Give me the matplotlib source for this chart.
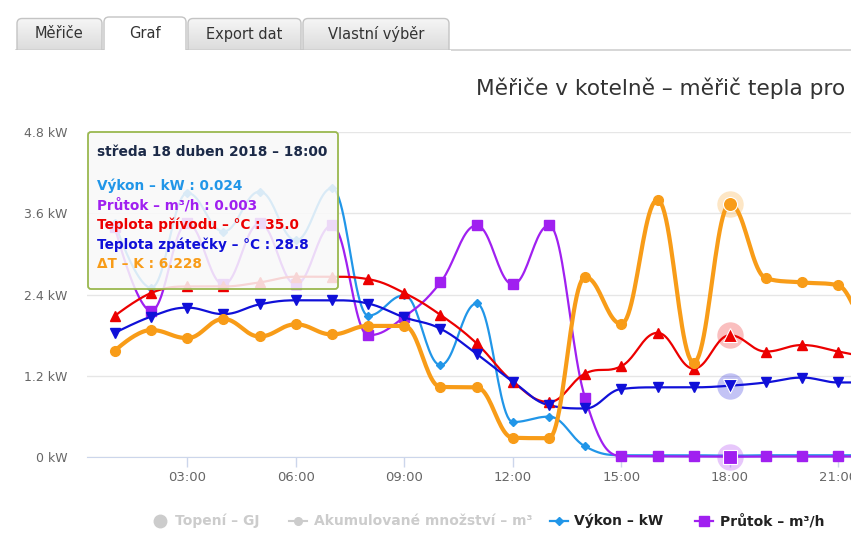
import numpy as np
import matplotlib.pyplot as plt
from matplotlib.patches import FancyBboxPatch, Rectangle

# hodinova data, 18. 4. 2018
hours = list(range(1, 23))
vykon = [3.45, 2.5, 3.9, 3.33, 3.92, 3.2, 3.97, 2.09, 2.39, 1.36, 2.27, 0.52,
         0.60, 0.16, 0.03, 0.03, 0.03, 0.024, 0.03, 0.03, 0.03, 0.03]          # kW
prutok = [1.13, 0.72, 1.15, 0.85, 1.15, 0.85, 1.14, 0.60, 0.69, 0.86, 1.14, 0.85,
          1.14, 0.29, 0.006, 0.005, 0.004, 0.003, 0.004, 0.004, 0.004, 0.004]   # m3/h
t_privod = [37.4, 40.2, 41.0, 41.0, 41.5, 42.2, 42.2, 41.9, 40.2, 37.5, 34.0, 29.3,
            26.8, 30.3, 31.2, 35.3, 30.9, 35.0, 33.0, 33.8, 33.0, 32.1]         # C
t_zpatecka = [35.3, 37.3, 38.4, 37.6, 38.8, 39.3, 39.3, 38.9, 37.2, 35.8, 32.7, 29.3,
              26.4, 26.0, 28.4, 28.6, 28.6, 28.8, 29.2, 29.8, 29.2, 29.2]       # C
delta_t = [2.62, 3.13, 2.93, 3.40, 2.97, 3.27, 3.02, 3.23, 3.23, 1.73, 1.72, 0.48,
           0.47, 4.43, 3.28, 6.33, 2.33, 6.228, 4.40, 4.30, 4.23, 2.2]          # K
xticks = [3, 6, 9, 12, 15, 18, 21]
yticks = [0, 1.2, 2.4, 3.6, 4.8]
hover = 18

C_VYKON = '#2196e8'
C_PRUTOK = '#a020f0'
C_PRIVOD = '#ec0000'
C_ZPAT = '#1010d8'
C_DT = '#f89c18'


def spline(xs, ys, n=24):
    # highcharts-like spline (smoothing 1.5)
    xs = np.asarray(xs, float)
    ys = np.asarray(ys, float)
    k = len(xs)
    s = 1.5
    d = s + 1
    lc = np.column_stack([xs, ys])
    rc = lc.copy()
    for i in range(1, k - 1):
        px, py = xs[i], ys[i]
        lx, ly = xs[i - 1], ys[i - 1]
        nx, ny = xs[i + 1], ys[i + 1]
        lcx = (s * px + lx) / d
        lcy = (s * py + ly) / d
        rcx = (s * px + nx) / d
        rcy = (s * py + ny) / d
        corr = (rcy - lcy) * (rcx - px) / (rcx - lcx) + py - rcy
        lcy += corr
        rcy += corr
        if lcy > ly and lcy > py:
            lcy = max(ly, py)
            rcy = 2 * py - lcy
        elif lcy < ly and lcy < py:
            lcy = min(ly, py)
            rcy = 2 * py - lcy
        if rcy > ny and rcy > py:
            rcy = max(ny, py)
            lcy = 2 * py - rcy
        elif rcy < ny and rcy < py:
            rcy = min(ny, py)
            lcy = 2 * py - rcy
        lc[i] = lcx, lcy
        rc[i] = rcx, rcy
    t = np.linspace(0, 1, n)[:, None]
    out = []
    for i in range(k - 1):
        p0 = np.array([xs[i], ys[i]])
        p3 = np.array([xs[i + 1], ys[i + 1]])
        seg = (1 - t) ** 3 * p0 + 3 * (1 - t) ** 2 * t * rc[i] + 3 * (1 - t) * t ** 2 * lc[i + 1] + t ** 3 * p3
        out.append(seg if i == 0 else seg[1:])
    pts = np.vstack(out)
    return pts[:, 0], pts[:, 1]


W, H = 851, 542
fig = plt.figure(figsize=(W / 100, H / 100), dpi=100)
fig.patch.set_facecolor('white')

# pixel layout: hour h -> 78.8 + 36.17*h
x0px, x1px = 87, 900
y0px, y1px = 457.3, 131.9
ax = fig.add_axes([x0px / W, (H - y0px) / H, (x1px - x0px) / W, (y0px - y1px) / H])
ax.set_xlim((x0px - 78.8) / 36.17, (x1px - 78.8) / 36.17)
ax.set_ylim(0, 4.8)
for sp in ['left', 'right', 'top']:
    ax.spines[sp].set_visible(False)
ax.spines['bottom'].set_color('#ccd6eb')
ax.set_yticks(yticks)
ax.set_yticklabels([f'{v:g} kW' for v in yticks])
ax.set_xticks(xticks)
ax.set_xticklabels([f'{h:02d}:00' for h in xticks])
ax.tick_params(axis='y', length=0, pad=14, labelsize=9, labelcolor='#666666')
ax.tick_params(axis='x', length=7, width=1, color='#ccd6eb', pad=3, labelsize=9.5, labelcolor='#666666')
ax.grid(axis='y', color='#e6e6e6', linewidth=1)
ax.set_axisbelow(True)

ax_q = ax.twinx()
ax_q.set_ylim(0, 1.6)
ax_t = ax.twinx()
ax_t.set_ylim(20, 60)
ax_dt = ax.twinx()
ax_dt.set_ylim(0, 8)
for a in (ax_q, ax_t, ax_dt):
    a.axis('off')

series = [
    (ax, vykon, C_VYKON, 'D', 4.3, 1.6),
    (ax_q, prutok, C_PRUTOK, 's', 6.5, 1.6),
    (ax_t, t_privod, C_PRIVOD, '^', 7, 1.6),
    (ax_t, t_zpatecka, C_ZPAT, 'v', 7, 1.6),
    (ax_dt, delta_t, C_DT, 'o', 7, 3.0),
]
hi = hours.index(hover)
for a, vals, col, mk, ms, lw in series:
    sx, sy = spline(hours, vals)
    a.plot(sx, sy, color=col, lw=lw, clip_on=False, solid_capstyle='round', zorder=2)
    a.plot(hours, vals, ls='none', marker=mk, ms=ms, color=col, mec=col, clip_on=False, zorder=3)
    if a is not ax:
        a.plot([hover], [vals[hi]], ls='none', marker='o', ms=19, color=col, alpha=0.25, mec='none',
               clip_on=False, zorder=3)
        a.plot([hover], [vals[hi]], ls='none', marker=mk, ms=ms * 1.45, color=col, mec='white', mew=0.8,
               clip_on=False, zorder=4)

# overlay in pixel coordinates
ov = fig.add_axes([0, 0, 1, 1])
ov.set_xlim(0, W)
ov.set_ylim(H, 0)
ov.axis('off')

# tabs
ov.plot([16, W], [49.5, 49.5], color='#d0d0d0', lw=1.2)
tabs = [(16, 103, 'Měřiče', False), (103, 187, 'Graf', True),
        (187, 302, 'Export dat', False), (302, 450, 'Vlastní výběr', False)]
grad = np.linspace(0, 1, 50)[:, None]
for tx0, tx1, lab, active in tabs:
    top = 17 if active else 18.5
    box = FancyBboxPatch((tx0 + 1, top), tx1 - tx0 - 2, 40, boxstyle='round,pad=0,rounding_size=5',
                         fc='white' if active else 'none', ec='#c4c4c4', lw=1, zorder=2)
    ov.add_patch(box)
    if not active:
        im = ov.imshow(grad, cmap=plt.matplotlib.colors.LinearSegmentedColormap.from_list(
            'g', ['#f6f6f6', '#dcdcdc']), extent=(tx0, tx1, 50, top), aspect='auto', zorder=1)
        im.set_clip_path(box)
    ov.add_patch(Rectangle((tx0 - 1, 50), tx1 - tx0 + 2, 12, fc='white', ec='none', zorder=3))
    ov.text((tx0 + tx1) / 2, 34, lab, ha='center', va='center', fontsize=10.5, color='#333333', zorder=4)
ov.set_xlim(0, W)
ov.set_ylim(H, 0)

# title
ov.text(476, 88, 'Měřiče v kotelně – měřič tepla pro', ha='left', va='center', fontsize=15.6,
        color='#333333')

# tooltip
tip = FancyBboxPatch((88, 132), 250, 157, boxstyle='round,pad=0,rounding_size=3',
                     fc=(0.975, 0.975, 0.975, 0.86), ec='#9ab84f', lw=1.3, zorder=5)
ov.add_patch(tip)
ov.text(97, 152, 'středa 18 duben 2018 – 18:00', fontsize=9.9, fontweight='bold', color='#1c2a48',
        va='center', zorder=6)
tip_lines = [
    (f'Výkon – kW : {vykon[hi]:.3f}', C_VYKON),
    (f'Průtok – m³/h : {prutok[hi]:.3f}', C_PRUTOK),
    (f'Teplota přívodu – °C : {t_privod[hi]:.1f}', C_PRIVOD),
    (f'Teplota zpátečky – °C : {t_zpatecka[hi]:.1f}', C_ZPAT),
    (f'ΔT – K : {delta_t[hi]:.3f}', C_DT),
]
for i, (txt, col) in enumerate(tip_lines):
    ov.text(97, 186 + i * 19.5, txt, fontsize=9.8, fontweight='bold', color=col, va='center', zorder=6)

# legend
ly = 521
ov.plot([160], [ly], marker='o', ms=9, color='#cccccc', ls='none')
ov.text(175, ly, 'Topení – GJ', fontsize=10, fontweight='bold', color='#cccccc', va='center')
ov.plot([289, 307], [ly, ly], color='#cccccc', lw=1.5)
ov.plot([298], [ly], marker='o', ms=5.5, color='#cccccc')
ov.text(314, ly, 'Akumulované množství – m³', fontsize=10, fontweight='bold', color='#cccccc', va='center')
ov.plot([550, 568], [ly, ly], color=C_VYKON, lw=1.6)
ov.plot([559], [ly], marker='D', ms=4.5, color=C_VYKON)
ov.text(574, ly, 'Výkon – kW', fontsize=10, fontweight='bold', color='#222222', va='center')
ov.plot([695, 713], [ly, ly], color=C_PRUTOK, lw=1.6)
ov.plot([704], [ly], marker='s', ms=6.5, color=C_PRUTOK)
ov.text(720, ly, 'Průtok – m³/h', fontsize=10, fontweight='bold', color='#222222', va='center')

fig.savefig('out.png', dpi=100)
